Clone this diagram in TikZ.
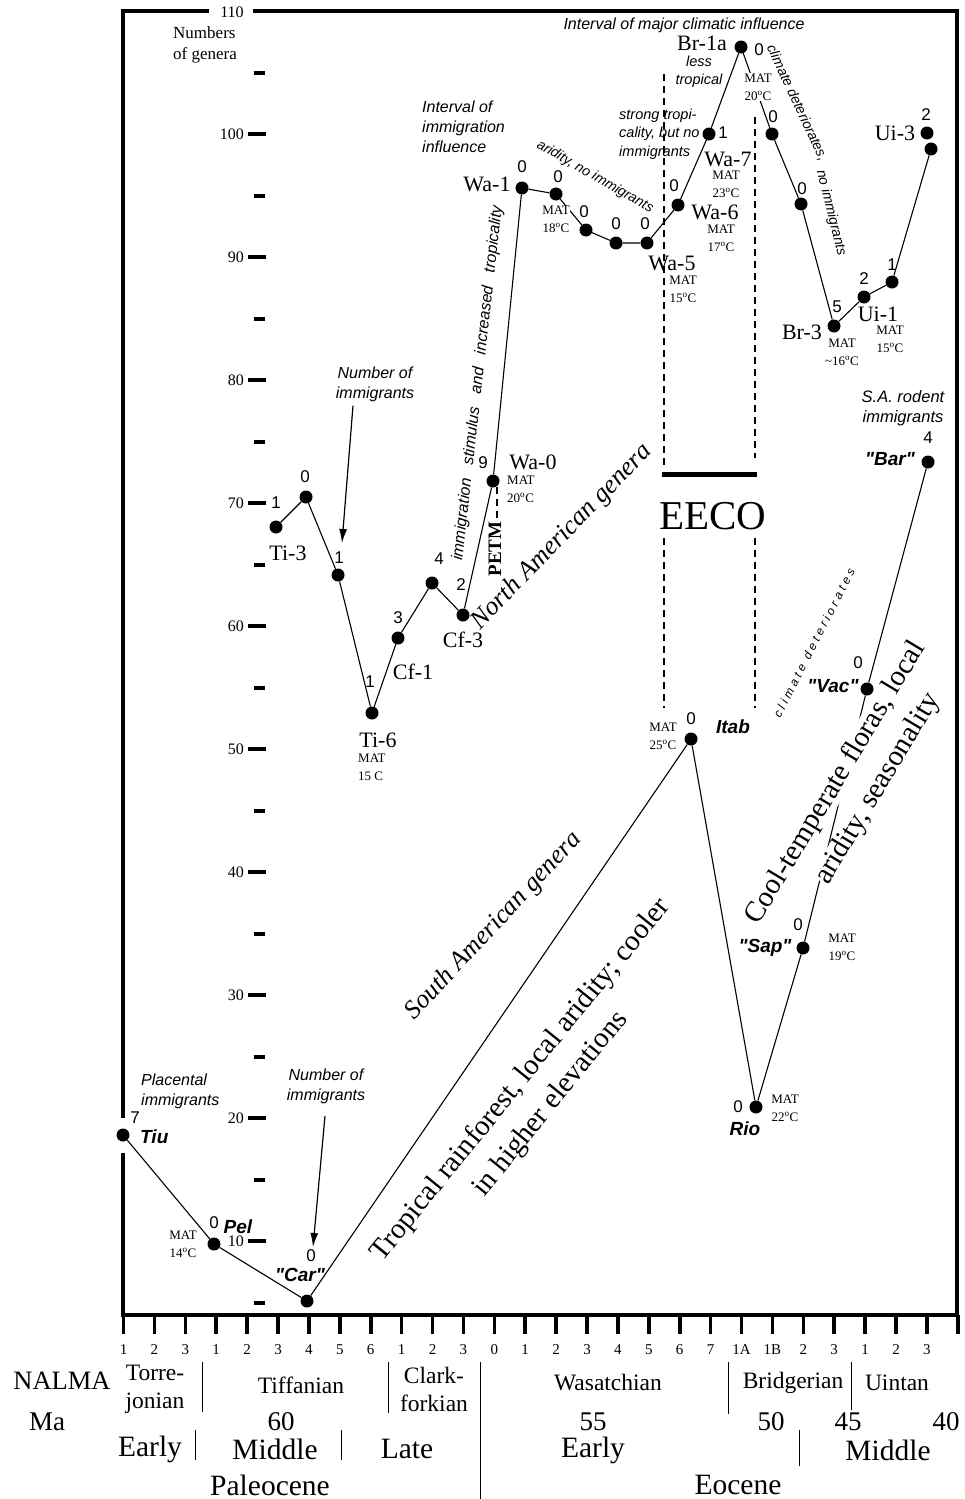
\documentclass[tikz,border=0pt]{standalone}
\usepackage{fontspec}
\setmainfont{Liberation Serif}
\setsansfont{Liberation Sans}
\newfontfamily\spacedsans[LetterSpace=28]{Liberation Sans}
\usetikzlibrary{arrows.meta}

\begin{document}
\begin{tikzpicture}[
	  x=1pt, y=-1pt,
	  dot/.style={circle, fill=black, inner sep=0pt, minimum size=13pt},
	  conn/.style={line width=1.1pt},
	  rim/.style={line width=4pt},
	  ytick/.style={line width=4pt},
	  ylab/.style={font=\fontsize{16}{16}\selectfont, anchor=east, inner sep=0pt},
	  xtick/.style={line width=3.6pt},
	  xlab/.style={font=\fontsize{15}{15}\selectfont, inner sep=0pt},
	  num/.style={font=\sffamily\fontsize{17}{17}\selectfont, inner sep=0pt},
	  zone/.style={font=\fontsize{22}{22}\selectfont, inner sep=0pt},
	  mat/.style={font=\fontsize{13}{18}\selectfont, align=center, inner sep=0pt},
	  sa/.style={font=\sffamily\bfseries\itshape\fontsize{19}{19}\selectfont, inner sep=0pt},
	  note/.style={font=\sffamily\itshape\fontsize{16}{20}\selectfont, inner sep=0pt},
	  smallnote/.style={font=\sffamily\itshape\fontsize{14.5}{18.5}\selectfont, inner sep=0pt},
	  genera/.style={font=\itshape\fontsize{26}{26}\selectfont, inner sep=0pt},
	  climate/.style={font=\fontsize{29}{38}\selectfont, align=center, inner sep=0pt},
	  eeco/.style={line width=1.8pt, dash pattern=on 7pt off 5pt},
	  stage/.style={font=\fontsize{23.5}{28}\selectfont, align=center, inner sep=0pt},
	  age/.style={font=\fontsize{27}{27}\selectfont, inner sep=0pt},
	  epoch/.style={font=\fontsize{29.5}{29.5}\selectfont, inner sep=0pt},
	  sep/.style={line width=1pt},
	  arr/.style={-{Latex[length=14pt, width=8pt]}, line width=1.2pt}
	]
	\useasboundingbox (0,0) rectangle (964,1499);

	% frame
	\draw[rim] (123,9) -- (123,1118);
	\draw[rim] (123,1153) -- (123,1317);
	\draw[rim] (121,11) -- (209,11);
	\draw[rim] (253,11) -- (959,11);
	\draw[line width=3.5pt] (957,9) -- (957,1317);
	\draw[rim] (121,1315) -- (959,1315);
	\node[ylab, anchor=center] (y110) at (232,12) {110};

	% y axis
	\foreach \v in {10,20,...,100} {
	  \draw[ytick] (248,{11+(110-\v)*12.3}) -- (266,{11+(110-\v)*12.3});
	  \node[ylab] (y\v) at (244,{11+(110-\v)*12.3}) {\v};
	}
	\foreach \v in {5,15,...,105}
	  \draw[ytick] (254,{11+(110-\v)*12.3}) -- (265,{11+(110-\v)*12.3});
	\node[font=\fontsize{17}{21}\selectfont, align=left, anchor=west, inner sep=0pt] (ytitle) at (173,45) {Numbers\\of genera};

	% x axis
	\foreach \i in {0,...,27}
	  \draw[xtick] ({123.5+30.9*\i},1315) -- ++(0,19);
	\foreach \t [count=\i from 0] in {1,2,3,1,2,3,4,5,6,1,2,3,0,1,2,3,4,5,6,7,1A,1B,2,3,1,2,3}
	  \node[xlab] (xl\i) at ({123.5+30.9*\i},1350) {\t};

	\node[stage, font=\fontsize{26.5}{26.5}\selectfont] (nalma) at (62,1381) {NALMA};
	\node[stage] (torr) at (155,1389) {Torre-\\jonian};
	\node[stage] (tiff) at (301,1385) {Tiffanian};
	\node[stage] (clark) at (434,1389) {Clark-\\forkian};
	\node[stage] (wasa) at (608,1383) {Wasatchian};
	\node[stage] (bridg) at (793,1383) {Bridgerian};
	\node[stage] (uint) at (897,1383) {Uintan};

	\node[age] (ma) at (47,1422) {Ma};
	\node[age] (ma60) at (281,1422) {60};
	\node[age] (ma55) at (593,1422) {55};
	\node[age] (ma50) at (771,1422) {50};
	\node[age] (ma45) at (848,1422) {45};
	\node[age] (ma40) at (946,1422) {40};

	\node[epoch] (pearly) at (150,1449) {Early};
	\node[epoch] (pmid) at (275,1449) {Middle};
	\node[epoch] (plate) at (407,1449) {Late};
	\node[epoch] (eearly) at (593,1450) {Early};
	\node[epoch] (emid) at (888,1450) {Middle};
	\node[epoch] (paleo) at (270,1485) {Paleocene};
	\node[epoch] (eoc) at (738,1485) {Eocene};

	\draw[sep] (202,1362) -- (202,1412);
	\draw[sep] (388,1362) -- (388,1413);
	\draw[sep] (480,1362) -- (480,1499);
	\draw[sep] (728,1362) -- (728,1414);
	\draw[sep] (851,1362) -- (851,1410);
	\draw[sep] (195,1430) -- (195,1460);
	\draw[sep] (341,1430) -- (341,1460);
	\draw[sep] (799,1430) -- (799,1466);

	% EECO
	\draw[eeco] (664,74) -- (664,466);
	\draw[eeco] (755,117) -- (755,458);
	\draw[line width=5pt] (662,474) -- (757,474);
	\node[font=\fontsize{41}{41}\selectfont, inner sep=0pt] (eeco) at (713,516) {EECO};
	\draw[eeco] (664,538) -- (664,708);
	\draw[eeco] (755,538) -- (755,708);
	\draw[eeco] (497,487) -- (497,518);
	\node[font=\bfseries\fontsize{19}{19}\selectfont, rotate=90, inner sep=0pt] (petm) at (495,549) {PETM};

	% data points
	\foreach \n/\x/\y in {ti3/276/527, tiB/306/497, tiC/338/575, ti6/372/713, cf1/398/638,
	  cfB/432/583, cf3/463/615, wa0/493/481, wa1/522/188, waB/556/194, waC/586/230,
	  waD/616/243, wa5/647/243, wa6/678/205, wa7/709/134, br1a/741/47, brB/772/134,
	  brC/801/204, br3/834/326, ui1/864/297, uiB/892/282, uiC/931/149, ui3/927/133,
	  tiu/123/1135, pel/214/1244, car/307/1301, itab/691/739, rio/756/1107,
	  sap/803/948, vac/867/689, bar/928/462}
	  \node[dot] (\n) at (\x,\y) {};

	\draw[conn] (ti3) -- (tiB) -- (tiC) -- (ti6) -- (cf1) -- (cfB) -- (cf3) -- (wa0)
	  -- (wa1) -- (waB) -- (waC) -- (waD) -- (wa5) -- (wa6) -- (wa7) -- (br1a)
	  -- (brB) -- (brC) -- (br3) -- (ui1) -- (uiB) -- (uiC);
	\draw[conn] (tiu) -- (pel) -- (car) -- (itab) -- (rio) -- (sap) -- (vac) -- (bar);

	% numbers of immigrants
	\foreach \x/\y/\t [count=\i] in {276/503/1, 305/477/0, 339/558/1, 370/682/1, 398/618/3,
	  439/559/4, 461/585/2, 483/463/9, 522/167/0, 558/177/0, 584/212/0, 616/224/0,
	  645/224/0, 674/186/0, 723/133/1, 759/50/0, 773/117/0, 802/189/0, 837/307/5,
	  864/279/2, 892/265/1, 926/115/2, 135/1118/7, 214/1223/0, 311/1256/0, 691/719/0,
	  738/1107/0, 798/925/0, 858/663/0, 928/438/4}
	  \node[num] (n\i) at (\x,\y) {\t};

	% zone names
	\foreach \x/\y/\t [count=\i] in {288/553/Ti-3, 378/740/Ti-6, 413/672/Cf-1, 463/640/Cf-3,
	  533/462/Wa-0, 487/184/Wa-1, 672/263/Wa-5, 715/212/Wa-6, 728/159/Wa-7,
	  702/43/Br-1a, 802/332/Br-3, 878/314/Ui-1, 895/133/Ui-3}
	  \node[zone] (z\i) at (\x,\y) {\t};

	\node[sa, anchor=west] (tiulab) at (140,1137) {Tiu};
	\node[sa] (pellab) at (238,1227) {Pel};
	\node[sa] (carlab) at (300,1275) {\textquotedbl Car\textquotedbl};
	\node[sa] (itablab) at (733,727) {Itab};
	\node[sa] (riolab) at (745,1129) {Rio};
	\node[sa] (saplab) at (765,948) {\textquotedbl Sap\textquotedbl};
	\node[sa] (vaclab) at (833,686) {\textquotedbl Vac\textquotedbl};
	\node[sa] (barlab) at (890,459) {\textquotedbl Bar\textquotedbl};

	% mean annual temperatures
	\foreach \x/\y/\t [count=\i] in {683/289/15, 721/238/17, 726/184/23, 890/339/15,
	  663/736/25, 785/1108/22, 842/947/19, 183/1244/14}
	  \node[mat] (m\i) at (\x,\y) {MAT\\\t\textsuperscript{o}C};
	\node[mat, fill=white] (matwab) at (556,219) {MAT\\18\textsuperscript{o}C};
	\node[mat, fill=white, inner sep=1pt] (matbr) at (758,87) {MAT\\20\textsuperscript{o}C};
	\node[mat] (matbr3) at (842,352) {MAT\\\textasciitilde16\textsuperscript{o}C};
	\node[mat, align=left, anchor=west] (matwa0) at (507,489) {MAT\\20\textsuperscript{o}C};
	\node[mat, align=left, anchor=west] (matti6) at (358,767) {MAT\\15 C};

	% annotations
	\node[note, align=center] (numimA) at (375,384) {Number of\\immigrants};
	\coordinate (numimAtip) at (342,543);
	\draw[arr] (numimA.south -| 353,0) ++(0,4) -- (numimAtip);
	\node[note, align=center] (numimB) at (326,1086) {Number of\\immigrants};
	\coordinate (numimBtip) at (313,1247);
	\draw[arr] (325,1116) -- (numimBtip);
	\node[note, align=left, anchor=west] (placental) at (141,1091) {Placental\\immigrants};
	\node[note, align=left, anchor=west] (intimm) at (422,127) {Interval of\\immigration\\influence};
	\node[note] (intclim) at (684,25) {Interval of major climatic influence};
	\node[smallnote, align=center] (lesstrop) at (699,72) {less\\tropical};
	\node[smallnote, align=left, anchor=west] (strong) at (619,134) {strong tropi-\\cality, but no\\immigrants};
	\node[note, font=\sffamily\itshape\fontsize{16.5}{20}\selectfont, align=center] (rodent) at (903,408) {S.A. rodent\\immigrants};
	\node[smallnote, font=\sffamily\itshape\fontsize{14}{14}\selectfont, rotate=-30] (arid) at (595,177) {aridity, no immigrants};
	\node[smallnote, font=\sffamily\itshape\fontsize{14}{14}\selectfont, rotate=-65] (climA) at (797,103) {climate deteriorates,};
	\node[smallnote, font=\sffamily\itshape\fontsize{14}{14}\selectfont, rotate=-76] (climB) at (831,213) {no immigrants};
	\node[inner sep=0pt, font=\spacedsans\itshape\fontsize{12}{12}\selectfont, rotate=63] (climC) at (814,643) {climate deteriorates};
	\node[note, rotate=83.6] (stimulus) at (478,383)
	  {\makebox[357pt]{immigration\hfill stimulus\hfill and\hfill increased\hfill tropicality}};

	\node[genera, rotate=46] (nagen) at (562,537) {North American genera};
	\node[genera, rotate=47] (sagen) at (494,926) {South American genera};
	\node[climate, rotate=51] (tropic) at (536,1092) {Tropical rainforest, local aridity; cooler\\in higher elevations};
	\node[climate, rotate=59, fill=white] (coolA) at (836,783) {Cool-temperate floras, local};
	\node[climate, rotate=59, fill=white] (coolB) at (878,789) {aridity, seasonality};

\end{tikzpicture}
\end{document}
